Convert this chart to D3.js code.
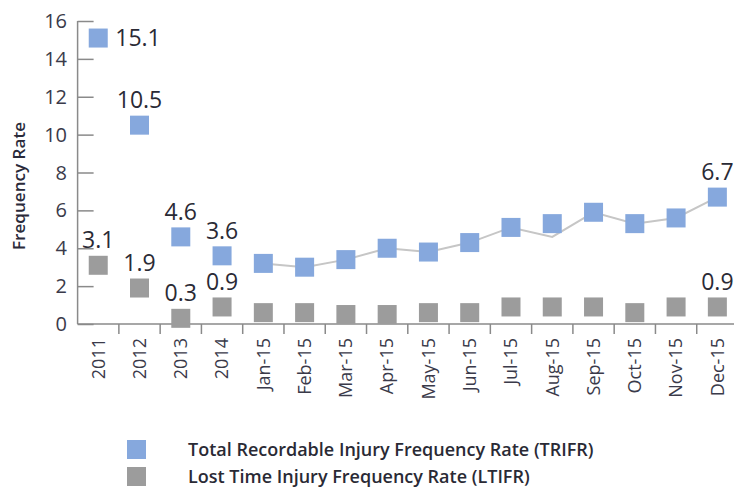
<!DOCTYPE html>
<html>
<head>
<meta charset="utf-8">
<script src="https://cdn.jsdelivr.net/npm/d3@7"></script>
<style>
  body { margin: 0; background: #fff; }
  svg { display: block; font-family: "Open Sans", sans-serif; }
</style>
</head>
<body>
<svg id="chart"></svg>
<script>
// Data
var periods = ["2011", "2012", "2013", "2014", "Jan-15", "Feb-15", "Mar-15", "Apr-15",
               "May-15", "Jun-15", "Jul-15", "Aug-15", "Sep-15", "Oct-15", "Nov-15", "Dec-15"];
var trifr  = [15.1, 10.5, 4.6, 3.6, 3.2, 3.0, 3.4, 4.0, 3.8, 4.3, 5.1, 5.3, 5.9, 5.3, 5.6, 6.7];
var ltifr  = [3.1, 1.9, 0.3, 0.9, 0.6, 0.6, 0.5, 0.5, 0.6, 0.6, 0.9, 0.9, 0.9, 0.6, 0.9, 0.9];
// grey connecting line drawn over the monthly points
var trendMonths = periods.slice(4);
var trendValues = [3.2, 3.0, 3.4, 4.0, 3.8, 4.3, 5.1, 4.6, 5.9, 5.3, 5.6, 6.7];
var yTicks = [0, 2, 4, 6, 8, 10, 12, 14, 16];
// which points get a value label
var trifrLabelled = ["2011", "2012", "2013", "2014", "Dec-15"];
var ltifrLabelled = ["2011", "2012", "2013", "2014", "Dec-15"];
var legendItems = [
  { name: "Total Recordable Injury Frequency Rate (TRIFR)", color: "#86a8dd" },
  { name: "Lost Time Injury Frequency Rate (LTIFR)", color: "#9c9c9c" }
];

var width = 734, height = 489;
var blue = legendItems[0].color, grey = legendItems[1].color;
var markSize = 19;

var svg = d3.select("#chart").attr("width", width).attr("height", height);

var x = d3.scaleBand().domain(periods).range([77.6, 738]);
var y = d3.scaleLinear().domain([0, 16]).range([324, 21]);

// y axis: ticks point inward
var yAxis = svg.append("g")
    .attr("transform", "translate(" + x.range()[0] + ",0)")
    .call(d3.axisRight(y).tickValues(yTicks).tickSize(16).tickFormat(""));
yAxis.select(".domain").attr("stroke", "#8a8a8a").attr("stroke-width", 1.5)
    .attr("d", "M0," + y(16) + "V" + y(0));
yAxis.selectAll(".tick line").attr("stroke", "#8a8a8a").attr("stroke-width", 1.5);

svg.append("g").selectAll("text")
    .data(yTicks)
    .enter().append("text")
    .attr("x", 67)
    .attr("y", function (d) { return y(d); })
    .attr("dy", "0.35em")
    .attr("text-anchor", "end")
    .attr("font-size", 20)
    .attr("fill", "#3a3a4a")
    .text(function (d) { return d; });

// x axis
var xAxis = svg.append("g")
    .attr("transform", "translate(0," + y(0) + ")")
    .call(d3.axisBottom(x).tickSize(0).tickFormat(""));
xAxis.select(".domain").attr("stroke", "#8a8a8a").attr("stroke-width", 1.5)
    .attr("d", "M" + x.range()[0] + ",0H" + width);
xAxis.selectAll(".tick").remove();

// tick marks between categories
svg.append("g").selectAll("line")
    .data(periods.slice(1))
    .enter().append("line")
    .attr("x1", function (d) { return x(d); })
    .attr("x2", function (d) { return x(d); })
    .attr("y1", y(0))
    .attr("y2", y(0) + 10)
    .attr("stroke", "#8a8a8a")
    .attr("stroke-width", 1.5);

svg.append("g").selectAll("text")
    .data(periods)
    .enter().append("text")
    .attr("transform", function (d) {
        return "translate(" + (x(d) + x.bandwidth() / 2) + "," + (y(0) + 14) + ") rotate(-90)";
    })
    .attr("dy", "0.35em")
    .attr("text-anchor", "end")
    .attr("font-size", 18)
    .attr("fill", "#3a3a4a")
    .text(function (d) { return d; });

// y axis title
svg.append("text")
    .attr("transform", "translate(19,186) rotate(-90)")
    .attr("dy", "0.35em")
    .attr("text-anchor", "middle")
    .attr("font-size", 17)
    .attr("font-weight", 600)
    .attr("textLength", 128)
    .attr("lengthAdjust", "spacingAndGlyphs")
    .attr("fill", "#2a2a3a")
    .text("Frequency Rate");

// grey line
var line = d3.line()
    .x(function (d, i) { return x(trendMonths[i]) + x.bandwidth() / 2; })
    .y(function (d) { return y(d); });
svg.append("path")
    .datum(trendValues)
    .attr("d", line)
    .attr("fill", "none")
    .attr("stroke", "#c6c6c6")
    .attr("stroke-width", 2);

// markers
function drawMarkers(values, color) {
    svg.append("g").selectAll("rect")
        .data(values)
        .enter().append("rect")
        .attr("x", function (d, i) { return x(periods[i]) + x.bandwidth() / 2 - markSize / 2; })
        .attr("y", function (d) { return y(d) - markSize / 2; })
        .attr("width", markSize)
        .attr("height", markSize)
        .attr("fill", color);
}
drawMarkers(trifr, blue);
drawMarkers(ltifr, grey);

// value labels
function drawLabels(values, keep) {
    svg.append("g").selectAll("text")
        .data(values.map(function (v, i) { return { p: periods[i], v: v }; })
            .filter(function (d) { return keep.indexOf(d.p) >= 0; }))
        .enter().append("text")
        .attr("x", function (d) {
            var cx = x(d.p) + x.bandwidth() / 2;
            return d.v > 15 ? cx + 17 : cx;
        })
        .attr("y", function (d) { return d.v > 15 ? y(d.v) : y(d.v) - 17; })
        .attr("dy", function (d) { return d.v > 15 ? "0.35em" : "0"; })
        .attr("text-anchor", function (d) { return d.v > 15 ? "start" : "middle"; })
        .attr("font-size", 23)
        .attr("fill", "#2a2a35")
        .text(function (d) { return d3.format(".1f")(d.v); });
}
drawLabels(trifr, trifrLabelled);
drawLabels(ltifr, ltifrLabelled);

// legend
var legend = svg.append("g").selectAll("g")
    .data(legendItems)
    .enter().append("g")
    .attr("transform", function (d, i) { return "translate(127," + (440 + i * 27) + ")"; });
legend.append("rect")
    .attr("width", 19).attr("height", 19)
    .attr("fill", function (d) { return d.color; });
legend.append("text")
    .attr("x", 61)
    .attr("y", 10)
    .attr("dy", "0.35em")
    .attr("font-size", 18)
    .attr("font-weight", 600)
    .attr("fill", "#2a2a35")
    .text(function (d) { return d.name; });
</script>
</body>
</html>
